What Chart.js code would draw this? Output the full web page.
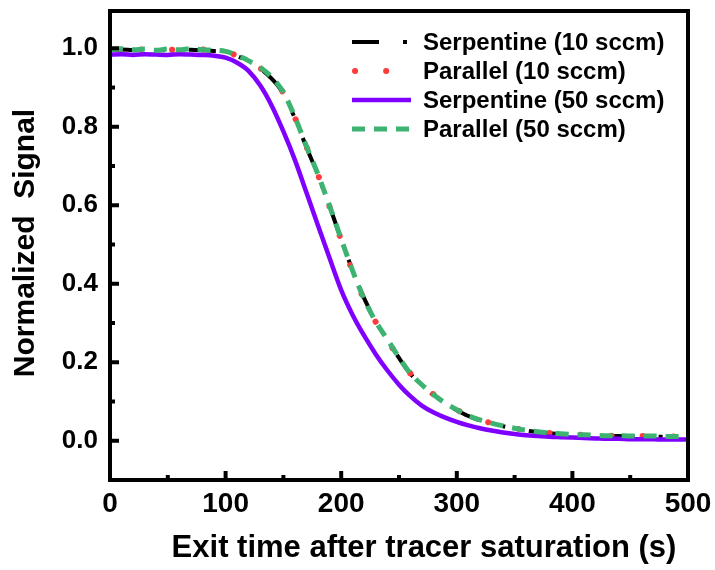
<!DOCTYPE html>
<html><head><meta charset="utf-8">
<script src="https://cdn.jsdelivr.net/npm/chart.js@4/dist/chart.umd.min.js"></script>
<style>html,body{margin:0;padding:0;background:#fff}#wrap{width:715px;height:570px}</style>
</head><body><div id="wrap"><canvas id="c" width="715" height="570"></canvas></div>
<script>
const times = [0,10,20,30,40,50,60,70,80,90,100,110,120,130,140,150,160,170,180,190,200,210,220,230,240,250,260,270,280,290,300,310,320,330,340,350,360,370,380,390,400,410,420,430,440,450,460,470,480,490,500];
const serp10 = [0.996,0.997,0.995,0.997,0.996,0.995,0.997,0.996,0.995,0.993,0.990,0.980,0.966,0.948,0.922,0.884,0.821,0.747,0.676,0.597,0.513,0.433,0.362,0.304,0.257,0.211,0.170,0.141,0.116,0.095,0.078,0.063,0.052,0.044,0.037,0.031,0.026,0.022,0.019,0.017,0.015,0.014,0.013,0.012,0.012,0.011,0.011,0.010,0.010,0.010,0.009];
const para10 = [0.998,0.996,0.999,0.996,0.998,0.997,0.995,0.998,0.997,0.994,0.991,0.981,0.967,0.949,0.924,0.886,0.823,0.749,0.677,0.596,0.511,0.430,0.358,0.302,0.256,0.211,0.171,0.142,0.118,0.097,0.079,0.064,0.053,0.045,0.038,0.032,0.027,0.023,0.020,0.018,0.016,0.015,0.014,0.013,0.012,0.012,0.012,0.011,0.011,0.011,0.011];
const serp50 = [0.984,0.985,0.983,0.985,0.984,0.983,0.985,0.984,0.983,0.981,0.976,0.963,0.942,0.905,0.853,0.788,0.715,0.632,0.548,0.465,0.384,0.320,0.267,0.220,0.179,0.143,0.113,0.089,0.072,0.059,0.048,0.039,0.032,0.026,0.021,0.017,0.014,0.012,0.010,0.009,0.008,0.007,0.006,0.005,0.005,0.004,0.004,0.004,0.003,0.003,0.003];
const para50 = [0.997,0.999,0.996,0.998,0.995,0.998,0.996,0.999,0.996,0.995,0.992,0.982,0.968,0.951,0.926,0.888,0.824,0.750,0.678,0.598,0.514,0.432,0.360,0.303,0.258,0.212,0.171,0.142,0.117,0.096,0.079,0.064,0.053,0.045,0.038,0.032,0.027,0.023,0.020,0.018,0.016,0.015,0.014,0.013,0.013,0.012,0.012,0.012,0.011,0.011,0.011];
const seriesNames = ['Serpentine (10 sccm)','Parallel (10 sccm)','Serpentine (50 sccm)','Parallel (50 sccm)'];
const xTicks = [0,100,200,300,400,500];
const xMinor = [50,150,250,350,450];
const yTicks = [0.0,0.2,0.4,0.6,0.8,1.0];
const yMinor = [0.1,0.3,0.5,0.7,0.9];
const xTitle = 'Exit time after tracer saturation (s)';
const yTitle = 'Normalized  Signal';

const FAM = "'Liberation Sans', Arial, Helvetica, sans-serif";
const pts = arr => times.map((t,i)=>({x:t,y:arr[i]}));

const styles = [
  {borderColor:'#000000', borderWidth:4, borderDash:[27,24,4,24], borderCapStyle:'butt', order:4},
  {borderColor:'#ff3b3b', borderWidth:6, borderDash:[0.1,31], borderCapStyle:'round', order:3},
  {borderColor:'#8000ff', borderWidth:4.5, borderDash:[], borderCapStyle:'butt', order:2},
  {borderColor:'#3cb371', borderWidth:5, borderDash:[13,9], borderCapStyle:'butt', order:1}
];
const seriesData = [serp10, para10, serp50, para50];

const datasets = seriesData.map((d,i)=>Object.assign({
  label: seriesNames[i], data: pts(d), pointRadius:0, fill:false,
  cubicInterpolationMode:'monotone', borderJoinStyle:'round'
}, styles[i]));

const framePlugin = {
  id:'frame',
  afterDraw(chart){
    const {ctx, chartArea:a, scales:{x,y}} = chart;
    ctx.save();
    ctx.strokeStyle='#000'; ctx.lineWidth=4; ctx.setLineDash([]);
    ctx.strokeRect(a.left, a.top, a.right-a.left, a.bottom-a.top);
    ctx.lineWidth=4; ctx.lineCap='butt';
    const tick=(x1,y1,x2,y2)=>{ctx.beginPath();ctx.moveTo(x1,y1);ctx.lineTo(x2,y2);ctx.stroke();};
    xTicks.forEach(v=>{const px=x.getPixelForValue(v); tick(px,a.bottom,px,a.bottom-9);});
    xMinor.forEach(v=>{const px=x.getPixelForValue(v); tick(px,a.bottom,px,a.bottom-5);});
    yTicks.forEach(v=>{const py=y.getPixelForValue(v); tick(a.left,py,a.left+9,py);});
    yMinor.forEach(v=>{const py=y.getPixelForValue(v); tick(a.left,py,a.left+5,py);});
    // titles
    ctx.fillStyle='#000';
    ctx.font='bold 31px '+FAM; ctx.textAlign='center'; ctx.textBaseline='alphabetic';
    ctx.fillText(xTitle, 424, 557);
    ctx.save();
    ctx.translate(34, 243); ctx.rotate(-Math.PI/2);
    ctx.font='bold 30px '+FAM; ctx.textAlign='center'; ctx.textBaseline='alphabetic';
    ctx.fillText(yTitle, 0, 0);
    ctx.restore();
    // legend
    const rows=[42,71,100,129];
    ctx.font='bold 24px '+FAM; ctx.textAlign='left'; ctx.textBaseline='middle';
    chart.data.datasets.forEach((ds,i)=>{
      const yy=rows[i];
      ctx.save();
      ctx.strokeStyle=ds.borderColor; ctx.lineWidth=ds.borderWidth;
      ctx.lineCap=ds.borderCapStyle; ctx.setLineDash(ds.borderDash);
      ctx.lineDashOffset = i===1 ? -3 : 0;
      ctx.beginPath(); ctx.moveTo(352,yy); ctx.lineTo(i===1?392:411,yy); ctx.stroke();
      ctx.restore();
      ctx.fillStyle='#000';
      ctx.fillText(ds.label, 423, yy+1);
    });
    ctx.restore();
  }
};

new Chart(document.getElementById('c'), {
  type:'line',
  data:{datasets},
  options:{
    responsive:false, animation:false, devicePixelRatio:1,
    layout:{padding:{top:11,right:27,left:0,bottom:0}},
    plugins:{legend:{display:false}, tooltip:{enabled:false}},
    scales:{
      x:{type:'linear', min:0, max:500,
        afterBuildTicks:s=>{s.ticks=xTicks.map(v=>({value:v}));},
        afterFit:s=>{s.height=90; s.paddingLeft=0; s.paddingRight=0;},
        grid:{display:false, drawTicks:false}, border:{display:false},
        ticks:{font:{family:FAM, size:28, weight:'bold'}, color:'#000', padding:7, maxRotation:0, autoSkip:false, callback:v=>String(v)}
      },
      y:{type:'linear', min:-0.1, max:1.095,
        afterBuildTicks:s=>{s.ticks=yTicks.map(v=>({value:v}));},
        afterFit:s=>{s.width=110; s.paddingTop=0; s.paddingBottom=0;},
        grid:{display:false, drawTicks:false}, border:{display:false},
        ticks:{font:{family:FAM, size:26, weight:'bold'}, color:'#000', padding:12, autoSkip:false, callback:v=>Number(v).toFixed(1)}
      }
    }
  },
  plugins:[framePlugin]
});
</script></body></html>
